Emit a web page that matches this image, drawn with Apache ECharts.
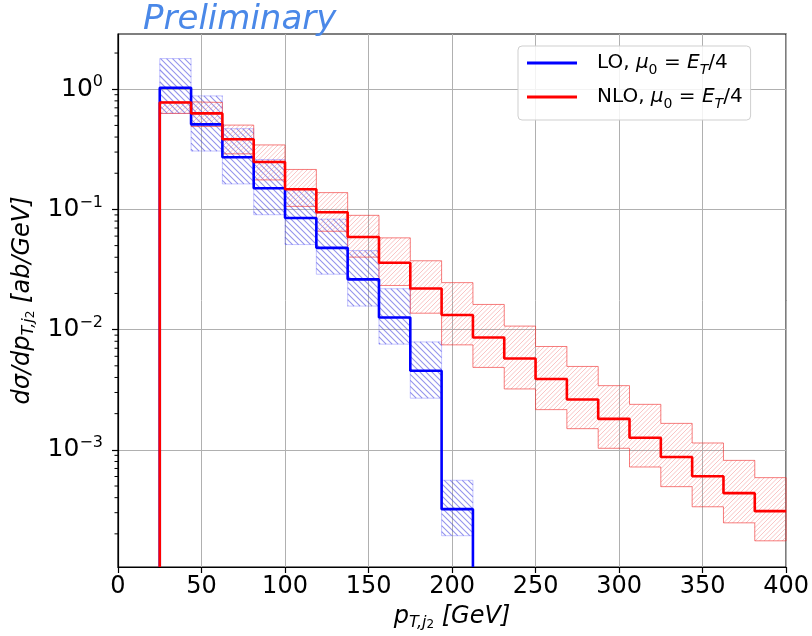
<!DOCTYPE html>
<html>
<head>
<meta charset="utf-8">
<script src="https://cdn.jsdelivr.net/npm/echarts@6/dist/echarts.min.js"></script>
<style>
html,body{margin:0;padding:0;background:#fff;}
#chart{width:812px;height:636px;}
</style>
</head>
<body>
<div id="chart"></div>
<script>
// ---- data ----
const binEdges = [25, 43.75, 62.5, 81.25, 100, 118.75, 137.5, 156.25, 175, 193.75, 212.5,
  231.25, 250, 268.75, 287.5, 306.25, 325, 343.75, 362.5, 381.25, 400];

const loCentral = [1.03, 0.51, 0.272, 0.150, 0.0849, 0.0479, 0.0262, 0.0126, 0.00455, 0.000321];
const loUp      = [1.80, 0.88, 0.47, 0.26, 0.148, 0.083, 0.0455, 0.0219, 0.0079, 0.000558];
const loDown    = [0.63, 0.306, 0.163, 0.0904, 0.051, 0.0289, 0.0157, 0.00757, 0.00269, 0.000193];

const nloCentral = [0.776, 0.629, 0.383, 0.248, 0.147, 0.0947, 0.059, 0.036, 0.022, 0.01325,
  0.00859, 0.00576, 0.00388, 0.00262, 0.00181, 0.00126, 0.000871, 0.000603, 0.000436, 0.000309];
const nloUp      = [0.785, 0.776, 0.503, 0.344, 0.215, 0.138, 0.0893, 0.058, 0.0374, 0.0246,
  0.0162, 0.0107, 0.00724, 0.00494, 0.00342, 0.00239, 0.00166, 0.00114, 0.000817, 0.000587];
const nloDown    = [0.629, 0.49, 0.29, 0.176, 0.106, 0.0658, 0.0401, 0.0233, 0.0137, 0.00747,
  0.00485, 0.00321, 0.00216, 0.0015, 0.00103, 0.00072, 0.000494, 0.000336, 0.000247, 0.000175];

const xTickValues = [0, 50, 100, 150, 200, 250, 300, 350, 400];
const yTickValues = [1e-3, 1e-2, 1e-1, 1];
const yMin = 1.06e-4, yMax = 2.88;
const xMin = 0, xMax = 400;

// ---- helpers ----
function stepLine(center, closeEnd) {
  const pts = [[binEdges[0], yMin]];
  for (let i = 0; i < center.length; i++) {
    pts.push([binEdges[i], center[i]]);
    pts.push([binEdges[i + 1], center[i]]);
  }
  if (closeEnd) pts.push([binEdges[center.length], yMin]);
  return pts;
}
function bandOutline(up, down) {
  const pts = [];
  for (let i = 0; i < up.length; i++) {
    pts.push([binEdges[i], up[i]]);
    pts.push([binEdges[i + 1], up[i]]);
  }
  for (let i = down.length - 1; i >= 0; i--) {
    pts.push([binEdges[i + 1], down[i]]);
    pts.push([binEdges[i], down[i]]);
  }
  pts.push([binEdges[0], up[0]]);
  return pts;
}
function bandRects(up, down) {
  return up.map((u, i) => [binEdges[i], binEdges[i + 1], down[i], u]);
}
// hatch lines clipped to each bin rectangle (screen space, globally aligned)
function hatchRender(spacing, dir, color, lw) {
  return function (params, api) {
    const p0 = api.coord([api.value(0), api.value(3)]);
    const p1 = api.coord([api.value(1), api.value(2)]);
    const x0 = Math.min(p0[0], p1[0]), x1 = Math.max(p0[0], p1[0]);
    const y0 = Math.min(p0[1], p1[1]), y1 = Math.max(p0[1], p1[1]);
    let d = '';
    if (dir === 'fwd') { // x + y = c  ('/')
      const cStart = Math.ceil((x0 + y0) / spacing) * spacing;
      for (let c = cStart; c <= x1 + y1; c += spacing) {
        const xa = Math.max(x0, c - y1), xb = Math.min(x1, c - y0);
        if (xb > xa) d += 'M' + xa.toFixed(2) + ' ' + (c - xa).toFixed(2) + 'L' + xb.toFixed(2) + ' ' + (c - xb).toFixed(2);
      }
    } else { // y - x = c  ('\')
      const cStart = Math.ceil((y0 - x1) / spacing) * spacing;
      for (let c = cStart; c <= y1 - x0; c += spacing) {
        const xa = Math.max(x0, y0 - c), xb = Math.min(x1, y1 - c);
        if (xb > xa) d += 'M' + xa.toFixed(2) + ' ' + (xa + c).toFixed(2) + 'L' + xb.toFixed(2) + ' ' + (xb + c).toFixed(2);
      }
    }
    if (!d) return null;
    return {
      type: 'path',
      shape: { pathData: d },
      style: { fill: null, stroke: color, lineWidth: lw }
    };
  };
}
const minorTicks = [];
for (let n = -4; n <= 0; n++) {
  for (let k = 2; k <= 9; k++) {
    const v = k * Math.pow(10, n);
    if (v > yMin && v < yMax) minorTicks.push([xMin, v]);
  }
}

const FONT = '"DejaVu Sans", sans-serif';
const mathRich = {
  i: { fontFamily: FONT, fontStyle: 'italic', fontSize: 24, lineHeight: 28, verticalAlign: 'middle', color: '#000' },
  s: { fontFamily: FONT, fontStyle: 'italic', fontSize: 16, lineHeight: 16, verticalAlign: 'bottom', color: '#000' },
  ss: { fontFamily: FONT, fontStyle: 'normal', fontSize: 12, lineHeight: 9, verticalAlign: 'bottom', color: '#000' }
};
const legRich = {
  n: { fontFamily: FONT, fontSize: 20, lineHeight: 28, verticalAlign: 'middle', color: '#000' },
  i: { fontFamily: FONT, fontStyle: 'italic', fontSize: 20, lineHeight: 28, verticalAlign: 'middle', color: '#000' },
  s: { fontFamily: FONT, fontSize: 14, lineHeight: 15, verticalAlign: 'bottom', color: '#000' },
  si: { fontFamily: FONT, fontStyle: 'italic', fontSize: 14, lineHeight: 15, verticalAlign: 'bottom', color: '#000' }
};
const legendLabel = {
  'LO': '{n|LO, }{i|μ}{s|0}{n| = }{i|E}{si|T}{n|/4}',
  'NLO': '{n|NLO, }{i|μ}{s|0}{n| = }{i|E}{si|T}{n|/4}'
};

const chart = echarts.init(document.getElementById('chart'), null, { renderer: 'canvas' });
chart.setOption({
  animation: false,
  backgroundColor: '#fff',
  graphic: [{
    type: 'text', left: 143, top: 3, z: 100,
    style: { text: 'Preliminary', font: 'italic 34px "DejaVu Sans"', fill: '#4a88e8' }
  }],
  grid: { left: 118, right: 23, top: 34, bottom: 68, show: true, borderColor: '#000', borderWidth: 1.2, backgroundColor: 'transparent' },
  legend: {
    orient: 'vertical', left: 518, top: 46,
    padding: [7, 8, 9, 9], itemGap: 10,
    itemWidth: 50, itemHeight: 3, icon: 'rect',
    backgroundColor: 'rgba(255,255,255,0.85)', borderColor: '#cfcfcf', borderWidth: 1, borderRadius: 4,
    data: [{ name: 'LO' }, { name: 'NLO' }],
    formatter: name => legendLabel[name],
    textStyle: { padding: [0, 0, 0, 15], rich: legRich },
    selectedMode: false
  },
  xAxis: {
    type: 'value', min: xMin, max: xMax, interval: 50,
    name: '{i|p}{s|T,j}{ss|2}{i| [GeV]}', nameLocation: 'middle', nameGap: 36,
    nameTextStyle: { rich: mathRich },
    axisLine: { show: true, onZero: false, lineStyle: { color: '#000', width: 1.2 } },
    axisTick: { show: true, length: 6, lineStyle: { color: '#000', width: 1.2 } },
    axisLabel: { color: '#000', fontSize: 24, fontFamily: FONT, margin: 8, showMinLabel: true, showMaxLabel: true },
    splitLine: { show: true, lineStyle: { color: '#b0b0b0', width: 1 } }
  },
  yAxis: {
    type: 'log', logBase: 10, min: yMin, max: yMax,
    name: '{i|dσ/dp}{s|T,j}{ss|2}{i| [ab/GeV]}', nameLocation: 'middle', nameGap: 71,
    nameTextStyle: { rich: mathRich },
    axisLine: { show: true, onZero: false, lineStyle: { color: '#000', width: 1.2 } },
    axisTick: { show: true, length: 6, lineStyle: { color: '#000', width: 1.2 }, customValues: yTickValues },
    axisLabel: {
      customValues: yTickValues, margin: 15,
      formatter: v => {
        const e = Math.round(Math.log10(v));
        if (Math.abs(Math.log10(v) - e) > 1e-6) return '';
        return '{b|10}{e|' + (e < 0 ? '\u2212' + (-e) : e) + '}';
      },
      rich: {
        b: { fontFamily: FONT, fontSize: 25, lineHeight: 30, verticalAlign: 'middle', color: '#000' },
        e: { fontFamily: FONT, fontSize: 16, lineHeight: 16, verticalAlign: 'top', color: '#000' }
      }
    },
    splitLine: { show: true, lineStyle: { color: '#b0b0b0', width: 1 } }
  },
  series: [
    { name: 'LO band', type: 'custom', renderItem: hatchRender(6, 'back', 'rgba(60,60,220,0.55)', 1.1),
      data: bandRects(loUp, loDown), clip: true, silent: true, z: 2 },
    { name: 'NLO band', type: 'custom', renderItem: hatchRender(4.5, 'fwd', 'rgba(240,100,100,0.42)', 0.9),
      data: bandRects(nloUp, nloDown), clip: true, silent: true, z: 3 },
    { name: 'LO edge', type: 'line', data: bandOutline(loUp, loDown), showSymbol: false, symbol: 'none', clip: true, silent: true, z: 4,
      lineStyle: { color: 'rgba(90,90,255,0.35)', width: 1 } },
    { name: 'NLO edge', type: 'line', data: bandOutline(nloUp, nloDown), showSymbol: false, symbol: 'none', clip: true, silent: true, z: 4,
      lineStyle: { color: 'rgba(240,40,40,0.6)', width: 1 } },
    { name: 'LO', type: 'line', data: stepLine(loCentral, true), showSymbol: false, symbol: 'none', clip: true, z: 5,
      color: '#0000ff', lineStyle: { color: '#0000ff', width: 2.6 } },
    { name: 'NLO', type: 'line', data: stepLine(nloCentral, false), showSymbol: false, symbol: 'none', clip: true, z: 6,
      color: '#ff0000', lineStyle: { color: '#ff0000', width: 2.6 } },
    { name: 'minor ticks', type: 'custom', data: minorTicks, silent: true, clip: false, z: 7,
      renderItem: (params, api) => {
        const p = api.coord([api.value(0), api.value(1)]);
        return { type: 'line', shape: { x1: p[0] - 3.5, y1: p[1], x2: p[0], y2: p[1] }, style: { stroke: '#000', lineWidth: 1 } };
      } }
  ]
});
</script>
</body>
</html>
